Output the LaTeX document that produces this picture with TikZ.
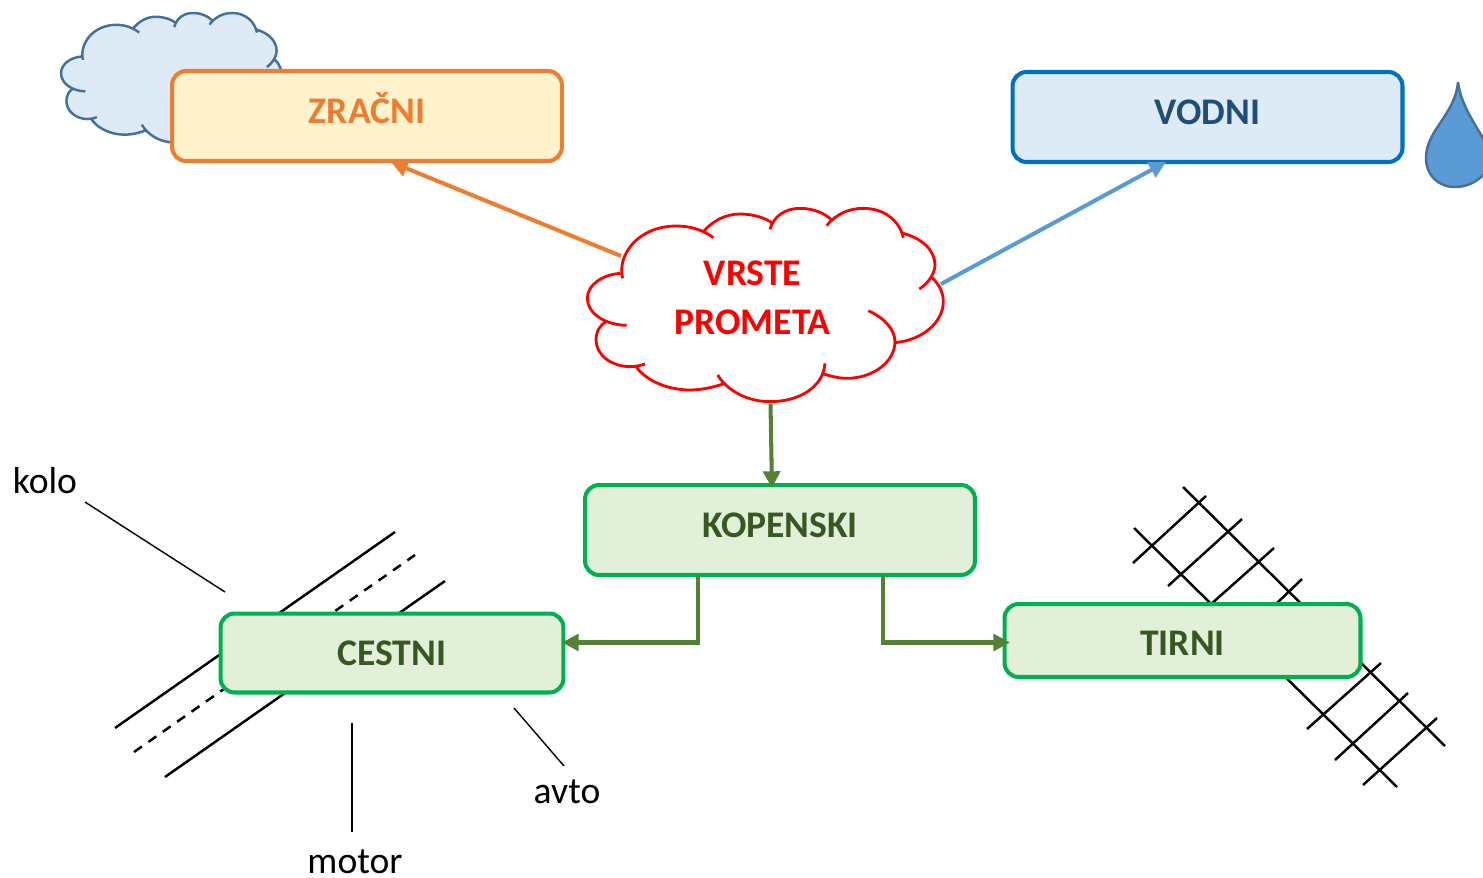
\documentclass[tikz,border=0pt]{standalone}
\usepackage{fontspec}
\setmainfont{Carlito}
\usetikzlibrary{arrows.meta}
\definecolor{zracniline}{HTML}{ED7D31}
\definecolor{zracnifill}{HTML}{FFF2CC}
\definecolor{vodniline}{HTML}{0070C0}
\definecolor{vodnifill}{HTML}{DEEBF7}
\definecolor{vodnitext}{HTML}{1F4E79}
\definecolor{kopenline}{HTML}{00B050}
\definecolor{kopenfill}{HTML}{E2F0D9}
\definecolor{kopentext}{HTML}{385723}
\definecolor{kopenarrow}{HTML}{548235}
\definecolor{dropfill}{HTML}{5B9BD5}
\definecolor{dropline}{HTML}{41719C}
\tikzset{
  typebox/.style={draw, rounded corners=8pt, line width=2.3pt, inner sep=0pt,
    font=\fontsize{21.4}{24}\selectfont\bfseries, text height=9pt, text depth=0pt},
  link/.style={line width=2.3pt, -{Triangle[length=9.5pt,width=9.5pt]}},
  thinline/.style={line width=0.8pt},
  track/.style={line width=1.4pt},
  word/.style={font=\fontsize{21.4}{24}\selectfont, inner sep=0pt},
}
% one cloud, each lobe is its own open arc
\newcommand{\cloudcore}{(160,255) -- (320,115) -- (405,135) -- (510,80) -- (605,112) -- (690,63) -- (778,110)
  -- (880,63) -- (990,140) -- (1085,225) -- (1075,262) -- (1112,335) -- (960,458) -- (830,557) -- (755,540)
  -- (600,627) -- (460,565) -- (360,592) -- (205,518) -- (180,522) -- (86,450) -- (115,390) -- (60,325) -- cycle}
\newcommand{\cloudarcs}{
  (158,265) .. controls (140,200) and (200,108) .. (320,108) .. controls (360,108) and (400,120) .. (430,143)
  (400,125) .. controls (430,90) and (470,72) .. (510,72) .. controls (550,72) and (590,85) .. (607,100)
  (600,118) .. controls (610,80) and (645,55) .. (690,55) .. controls (730,55) and (765,70) .. (785,90)
  (770,107) .. controls (800,70) and (840,55) .. (880,55) .. controls (945,55) and (990,95) .. (1000,143)
  (1000,130) .. controls (1055,145) and (1095,180) .. (1095,225) .. controls (1095,250) and (1075,280) .. (1048,297)
  (1085,262) .. controls (1110,285) and (1120,310) .. (1120,335) .. controls (1120,395) and (1060,450) .. (975,458)
  (895,362) .. controls (945,385) and (975,420) .. (975,455) .. controls (975,515) and (910,565) .. (830,565) .. controls (805,565) and (780,558) .. (755,550)
  (765,520) .. controls (760,590) and (690,635) .. (600,635) .. controls (530,635) and (470,600) .. (443,555)
  (465,580) .. controls (430,592) and (395,600) .. (360,600) .. controls (290,600) and (225,570) .. (197,528)
  (225,522) .. controls (210,527) and (195,530) .. (180,530) .. controls (125,530) and (78,495) .. (78,450) .. controls (78,425) and (90,405) .. (108,395)
  (170,406) .. controls (105,405) and (52,370) .. (52,325) .. controls (52,285) and (95,255) .. (150,250)
}
\begin{document}
\begin{tikzpicture}[x=0.02cm, y=-0.02cm]
\clip (0,0) rectangle (1483,877);
% sky cloud and water drop
\begin{scope}[shift={(50.3,0.7)}, xscale=0.2067, yscale=0.2233]
  \fill[vodnifill] \cloudcore;
  \fill[vodnifill] \cloudarcs;
  \draw[dropline, line width=1.4pt] \cloudarcs;
\end{scope}
\draw[dropline, fill=dropfill, line width=1.4pt] (1458,82) .. controls (1455,115) and (1426,130) .. (1426,158)
  .. controls (1426,175) and (1438,187) .. (1455,187) .. controls (1472,187) and (1490,175) .. (1490,158)
  .. controls (1490,140) and (1462,115) .. (1458,82);
% road
\draw[track] (115,728) -- (395,532);
\draw[track, dash pattern=on 5.5pt off 4.5pt] (134,752) -- (415,555);
\draw[track] (165,777) -- (445,581);
% rails
\draw[track] (1183,487) -- (1445,746);
\draw[track] (1134,528) -- (1397,787);
\foreach \ax/\ay/\bx/\by in {1206/496/1133/563, 1242/519/1168/586, 1274/548/1210/605, 1302/579/1277/603,
    1381/663/1307/729, 1408/693/1335/760, 1437/718/1363/785}
  \draw[track] (\ax,\ay) -- (\bx,\by);
% boxes
\node[typebox, draw=zracniline, fill=zracnifill, text=zracniline, minimum width=7.8cm, minimum height=1.8cm] (zracni) at (367,116) {ZRAČNI};
\node[typebox, draw=vodniline, fill=vodnifill, text=vodnitext, minimum width=7.8cm, minimum height=1.8cm] (vodni) at (1207.5,117) {VODNI};
\node[typebox, draw=kopenline, fill=kopenfill, text=kopentext, minimum width=7.8cm, minimum height=1.8cm] (kopenski) at (780,530) {KOPENSKI};
\node[typebox, draw=kopenline, fill=kopenfill, text=kopentext, minimum width=6.86cm, minimum height=1.58cm, text height=14.7pt] (cestni) at (392,653) {CESTNI};
\node[typebox, draw=kopenline, fill=kopenfill, text=kopentext, minimum width=7.12cm, minimum height=1.46cm, text height=17.5pt] (tirni) at (1182.5,640.5) {TIRNI};
% centre cloud
\node[inner sep=0pt, align=center, text=red, font=\fontsize{21.4}{27.8}\selectfont\bfseries] (vrste) at (752.5,298) {VRSTE\\PROMETA};
\begin{scope}[shift={(570,190)}, xscale=0.3333, yscale=0.3333]
  \draw[red, line width=1.6pt] \cloudarcs;
\end{scope}
% connectors
\coordinate (vrsteNW) at (621,256);
\coordinate (vrsteNE) at (941,284);
\coordinate (vrsteS) at (770.5,404);
\coordinate (zracniIn) at (391,162);
\coordinate (vodniIn) at (1166,162);
\coordinate (kopenskiIn) at (772,488);
\coordinate (kopenskiL) at (698,575);
\coordinate (kopenskiR) at (883,575);
\coordinate (cestniIn) at (562,642.5);
\coordinate (tirniIn) at (1010,642.5);
\draw[link, zracniline] (vrsteNW) -- (zracniIn);
\draw[link, dropfill] (vrsteNE) -- (vodniIn);
\draw[link, kopenarrow] (vrsteS) -- (kopenskiIn);
\draw[link, kopenarrow] (kopenskiL) |- (cestniIn);
\draw[link, kopenarrow] (kopenskiR) |- (tirniIn);
% labels with their leaders
\node[word] (kolo) at (45,480.5) {kolo};
\node[word] (motor) at (355,861.5) {motor};
\node[word] (avto) at (567,792) {avto};
\coordinate (koloEnd) at (225,592);
\coordinate (koloStart) at (85,502);
\coordinate (motorEnd) at (352,723);
\coordinate (motorStart) at (352,832);
\coordinate (avtoEnd) at (514,708);
\coordinate (avtoStart) at (564,766);
\draw[thinline] (koloStart) -- (koloEnd);
\draw[thinline] (motorStart) -- (motorEnd);
\draw[thinline] (avtoStart) -- (avtoEnd);
\end{tikzpicture}
\end{document}
